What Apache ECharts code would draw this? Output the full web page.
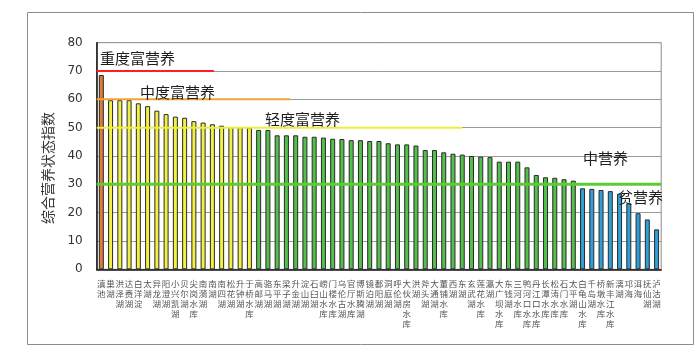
<!DOCTYPE html>
<html>
<head>
<meta charset="utf-8">
<script src="https://cdn.jsdelivr.net/npm/echarts@6/dist/echarts.min.js"></script>
<style>
  html, body { margin: 0; padding: 0; background: #fff; }
  #chart { width: 699px; height: 354px; }
</style>
</head>
<body>
<div id="chart"></div>
<script>
// Lakes and reservoirs, ranked by trophic state index
const categories = [
  '滇池', '巢湖', '洪泽湖', '达赉湖', '白洋淀', '太湖', '异龙湖', '阳澄湖', '小兴凯湖', '贝尔湖',
  '尖岗水库', '南漪湖', '南湖', '南四湖', '松花湖', '升钟湖', '于桥水库', '高邮湖', '骆马湖', '东平湖',
  '梁子湖', '升金湖', '淀山湖', '石臼湖', '崂山水库', '门楼水库', '乌伦古湖', '官厅水库', '博斯腾湖', '镜泊湖',
  '鄱阳湖', '洞庭湖', '呼伦湖', '大伙房水库', '洪湖', '斧头湖', '大通湖', '董铺水库', '西湖', '东湖',
  '玄武湖', '莲花水库', '瀛湖', '大广坝水库', '东钱湖', '三河水库', '鸭河口水库', '丹江口水库', '长潭水库', '松涛水库',
  '石门水库', '太平湖', '白龟山水库', '千岛湖', '桥墩水库', '新丰江水库', '漓湖', '邛海', '洱海', '抚仙湖',
  '泸沽湖'
];

// Comprehensive trophic state index per lake
const indexValues = [
  68.6, 59.7, 59.7, 59.7, 58.6, 57.6, 56.0, 54.8, 53.9, 53.5,
  52.3, 51.8, 51.2, 50.7, 50.2, 50.1, 50.0, 49.2, 49.2, 47.3,
  47.3, 47.3, 46.8, 46.8, 46.5, 46.1, 46.0, 45.6, 45.6, 45.3,
  45.3, 44.5, 44.1, 44.1, 43.7, 42.1, 42.1, 41.3, 40.8, 40.5,
  40.0, 39.8, 39.6, 38.0, 38.0, 38.0, 36.0, 33.3, 32.5, 32.3,
  31.8, 31.3, 28.6, 28.4, 28.0, 27.6, 26.7, 23.3, 19.8, 17.6,
  14.1
];

// Trophic grade boundaries and how far along the lake ranking each reference line runs
const gradeNames = ['重度富营养', '中度富营养', '轻度富营养', '中营养', '贫营养'];
const gradeLimits = [70, 60, 50, 30];
const gradeLineEnds = [12.66, 20.87, 39.5, 61];

const yTicks = ['0', '10', '20', '30', '40', '50', '60', '70', '80'];

const barFill = ['#dc7a3a', '#f2ef45', '#52c04a', '#2f9fd8'];
const lineColor = ['#ff1f1f', '#f0a535', '#eeee3a', '#5ccc35'];
const lineWidth = [2, 2, 2, 3];

function gradeOf(v) {
  if (v >= gradeLimits[1]) return 0;
  if (v >= gradeLimits[2]) return 1;
  if (v >= gradeLimits[3]) return 2;
  return 3;
}

const FONT = '"DejaVu Sans", "Noto Sans CJK SC", sans-serif';
const CJK = '"Noto Sans CJK SC", "DejaVu Sans", sans-serif';

const lineSeries = gradeLimits.map((lim, i) => ({
  type: 'line',
  xAxisIndex: 1,
  data: [[0, lim], [gradeLineEnds[i], lim]],
  symbol: 'none',
  silent: true,
  z: 5,
  lineStyle: { color: lineColor[i], width: lineWidth[i] },
  animation: false
}));

const chart = echarts.init(document.getElementById('chart'), null, { renderer: 'canvas' });

const labelPos = [[100, 58], [140, 92], [265, 119], [583, 158], [618, 197]];

chart.setOption({
  animation: false,
  backgroundColor: '#ffffff',
  grid: { left: 96.7, right: 37.8, top: 42.7, bottom: 84.7, show: true, borderColor: '#8a8a8a', borderWidth: 1 },
  xAxis: [
    {
      type: 'category',
      data: categories,
      axisLine: { lineStyle: { color: '#111', width: 1.5 } },
      axisTick: { show: false },
      axisLabel: {
        interval: 0,
        margin: 9,
        fontSize: 8.5,
        lineHeight: 10,
        color: '#555',
        fontFamily: CJK,
        formatter: v => v.split('').join('\n')
      }
    },
    { type: 'value', min: 0, max: categories.length, show: false }
  ],
  yAxis: {
    type: 'value',
    min: 0,
    max: 80,
    interval: 10,
    name: '综合营养状态指数',
    nameLocation: 'middle',
    nameGap: 42,
    nameTextStyle: { fontSize: 14, color: '#333', fontFamily: CJK, padding: [0, 0, 0, -24] },
    axisLine: { show: true, lineStyle: { color: '#111', width: 1.5 } },
    axisTick: { show: false },
    axisLabel: {
      margin: 14,
      fontSize: 12,
      color: '#333',
      fontFamily: FONT,
      formatter: v => yTicks[v / 10]
    },
    splitLine: { lineStyle: { color: '#9a9a9a', width: 1 } }
  },
  series: [
    {
      type: 'bar',
      data: indexValues,
      barWidth: 5,
      z: 3,
      itemStyle: {
        borderColor: '#2a2a2a',
        borderWidth: 1,
        color: p => barFill[gradeOf(p.value)]
      }
    },
    ...lineSeries
  ],
  graphic: [
    {
      type: 'rect',
      shape: { x: 27.5, y: 12.5, width: 666, height: 332 },
      style: { fill: 'none', stroke: '#8c8c8c', lineWidth: 1 },
      silent: true,
      z: -10
    },
    ...gradeNames.map((name, i) => ({
      type: 'text',
      x: labelPos[i][0],
      y: labelPos[i][1],
      z: 100,
      style: {
        text: name,
        fill: '#1e1e1e',
        font: '15px ' + CJK,
        textVerticalAlign: 'middle'
      }
    }))
  ]
});
</script>
</body>
</html>
